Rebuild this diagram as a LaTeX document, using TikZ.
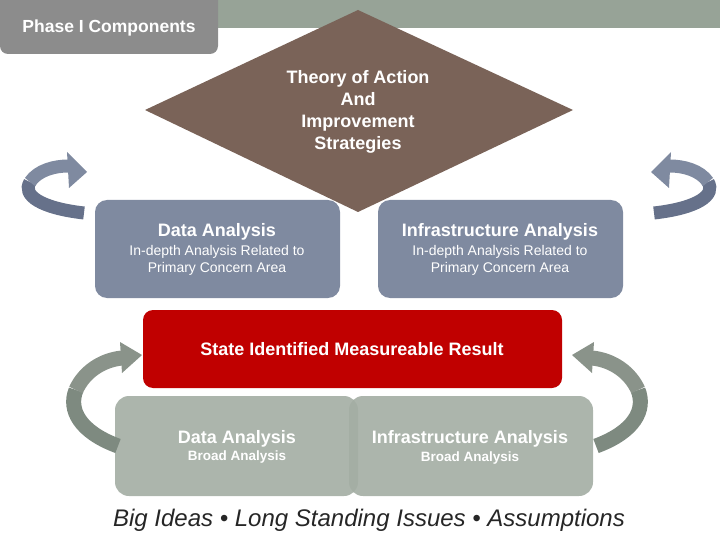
\documentclass[tikz,border=0pt]{standalone}
\usepackage{fontspec}
\setmainfont{Liberation Sans}
\definecolor{bar}{HTML}{97A397}
\definecolor{phase}{HTML}{8C8C8C}
\definecolor{dia}{HTML}{7A6358}
\definecolor{blu}{HTML}{7F8AA0}
\definecolor{bluD}{HTML}{66718A}
\definecolor{redb}{HTML}{C00000}
\definecolor{grn}{HTML}{A3ADA3}
\definecolor{grnD}{HTML}{7E8A80}
\begin{document}
\begin{tikzpicture}[x=1pt,y=-1pt,
  ttl/.style={text=white,font=\bfseries\fontsize{18}{20}\selectfont},
  sub/.style={text=white,font=\fontsize{14}{17}\selectfont,align=center},
  band/.style={line width=13pt,line cap=butt}]
\useasboundingbox (0,0) rectangle (720,540);
\fill[bar] (218,0) rectangle (720,28);
\fill[phase,rounded corners=8pt] (0,-10) rectangle (218,54);
\node[text=white,font=\bfseries\fontsize{17.5}{18}\selectfont] (pht) at (109,28) {Phase I Components};
\fill[dia] (358,10) -- (573,110) -- (358,212) -- (145,110) -- cycle;
\node[text=white,font=\bfseries\fontsize{18}{22}\selectfont,align=center] (th) at (358,112) {Theory of Action\\And\\Improvement\\Strategies};
% blue boxes
\fill[blu,rounded corners=12pt] (95,200) rectangle (340,298);
\fill[blu,rounded corners=12pt] (378,200) rectangle (623,298);
\node[ttl] (da1) at (217,232) {Data Analysis};
\node[sub] (da1s) at (217,260) {In-depth Analysis Related to\\Primary Concern Area};
\node[ttl] (ia1) at (500,232) {Infrastructure Analysis};
\node[sub] (ia1s) at (500,260) {In-depth Analysis Related to\\Primary Concern Area};
% red
\fill[redb,rounded corners=10pt] (143,310) rectangle (562,388);
\node[text=white,font=\bfseries\fontsize{18}{18}\selectfont] (res) at (352,349) {State Identified Measureable Result};
% green
\fill[grn,rounded corners=14pt,opacity=0.9] (115,396) rectangle (358,496);
\fill[grn,rounded corners=14pt,opacity=0.9] (349,396) rectangle (593,496);
\node[ttl] (da2) at (237,439) {Data Analysis};
\node[sub,font=\bfseries\fontsize{13.5}{15}\selectfont] (da2s) at (237,457) {Broad Analysis};
\node[ttl] (ia2) at (470,439) {Infrastructure Analysis};
\node[sub,font=\bfseries\fontsize{13.5}{15}\selectfont] (ia2s) at (470,458) {Broad Analysis};
\node[font=\itshape\fontsize{24}{26}\selectfont,text=black!85] (big) at (369,520) {Big Ideas • Long Standing Issues • Assumptions};
% top-left arrow
\draw[band,bluD] (84,213) .. controls (40,208) and (22,195) .. (30,182);
\draw[band,blu] (30,182) .. controls (38,170) and (55,166) .. (68,166);
\fill[blu] (67,152) -- (87,172) -- (69,188) -- cycle;
% top-right arrow
\draw[band,bluD] (654,213) .. controls (698,208) and (716,195) .. (708,182);
\draw[band,blu] (708,182) .. controls (700,170) and (683,166) .. (670,166);
\fill[blu] (671,152) -- (651,172) -- (669,188) -- cycle;
% bottom-left arrow
\draw[band,grnD,line width=15pt] (118,446) .. controls (80,432) and (68,410) .. (76,390);
\draw[band,grn!85!black,line width=15pt] (76,390) .. controls (84,372) and (102,360) .. (122,358);
\fill[grn!85!black] (120,342) -- (142,355) -- (122,373) -- cycle;
% bottom-right arrow
\draw[band,grnD,line width=15pt] (596,446) .. controls (634,432) and (646,410) .. (638,390);
\draw[band,grn!85!black,line width=15pt] (638,390) .. controls (630,372) and (612,360) .. (592,358);
\fill[grn!85!black] (594,342) -- (572,355) -- (592,373) -- cycle;
\end{tikzpicture}
\end{document}
